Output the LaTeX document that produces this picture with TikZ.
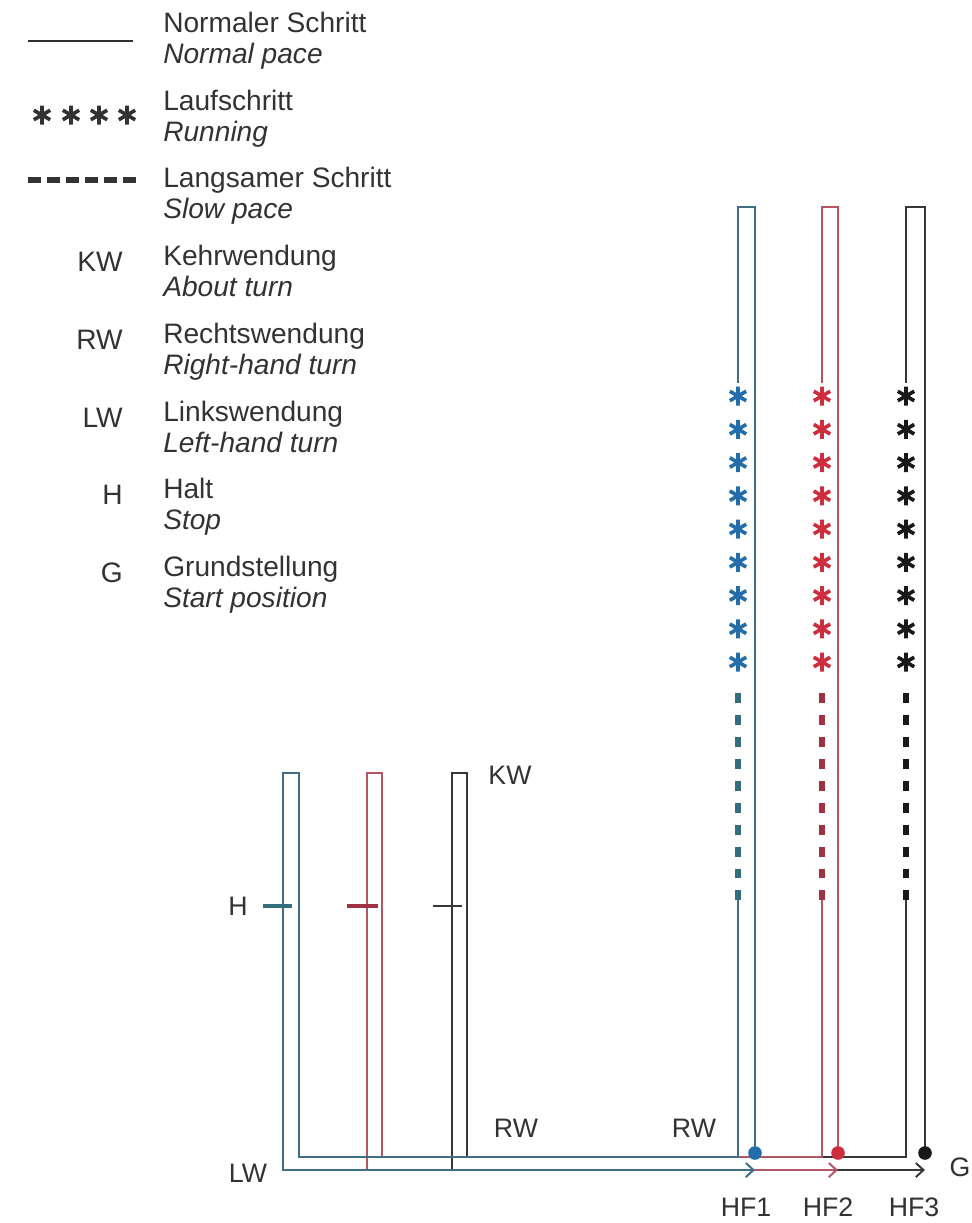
\documentclass[tikz,border=0pt]{standalone}
\usepackage{fontspec}
\setmainfont{Liberation Sans}
\usetikzlibrary{arrows.meta}

\definecolor{txtgray}{RGB}{50,50,50}
\definecolor{hfblue}{RGB}{35,110,170}
\definecolor{hfbluel}{RGB}{65,110,135}
\definecolor{hfbluet}{RGB}{50,110,125}
\definecolor{hfred}{RGB}{205,45,60}
\definecolor{hfredl}{RGB}{180,85,100}
\definecolor{hfredt}{RGB}{160,50,65}
\definecolor{hfblack}{RGB}{25,25,25}
\definecolor{hfblackl}{RGB}{55,55,55}

\tikzset{runmark/.pic={\draw[line width=2.6pt] (0,-9.5) -- (0,9.5) (-8.2,-4.75) -- (8.2,4.75) (-8.2,4.75) -- (8.2,-4.75);}}

\begin{document}
\begin{tikzpicture}
[	x=0.025cm, y=-0.025cm,
	>={Straight Barb[length=5.5pt,width=10pt]},
	route/.style={line width=1.4pt},
	slow/.style={line width=3.8pt,dash pattern=on 7.1pt off 8.5pt},
	halt/.style={line width=2.2pt},
	startdot/.style={circle,inner sep=0pt,minimum size=0.34cm},
	de/.style={anchor=base west,inner sep=0pt,text=txtgray,font=\fontsize{20}{24}\selectfont},
	en/.style={de,font=\fontsize{20}{24}\selectfont\itshape},
	abbr/.style={anchor=base east,inner sep=0pt,text=txtgray,font=\fontsize{20}{24}\selectfont},
	plain/.style={text=txtgray,inner sep=0pt,font=\fontsize{19}{23}\selectfont}
]
\useasboundingbox (0,0) rectangle (972,1223);

% legend
\draw[route,txtgray] (28,41) -- (133,41);
\foreach \x in {42,71,99,127} \pic[txtgray] at (\x,115) {runmark};
\draw[line width=3.8pt,dash pattern=on 9.2pt off 4.3pt,txtgray] (28,180) -- (137,180);
\node[abbr] (kwkey) at (123,271){KW};
\node[abbr] (rwkey) at (123,349){RW};
\node[abbr] (lwkey) at (123,427){LW};
\node[abbr] (hkey) at (123,504){H};
\node[abbr] (gkey) at (123,582){G};

\node[de] (normal) at (163,32){Normaler Schritt};
\node[en] (normalen) at (163,63){Normal pace};
\node[de] (lauf) at (163,110){Laufschritt};
\node[en] (laufen) at (163,141){Running};
\node[de] (langsam) at (163,187){Langsamer Schritt};
\node[en] (langsamen) at (163,218){Slow pace};
\node[de] (kehr) at (163,265){Kehrwendung};
\node[en] (kehren) at (163,296){About turn};
\node[de] (rechts) at (163,343){Rechtswendung};
\node[en] (rechtsen) at (163,374){Right-hand turn};
\node[de] (links) at (163,421){Linkswendung};
\node[en] (linksen) at (163,452){Left-hand turn};
\node[de] (halt) at (163,498){Halt};
\node[en] (halten) at (163,529){Stop};
\node[de] (grund) at (163,576){Grundstellung};
\node[en] (grunden) at (163,607){Start position};

% HF3
\coordinate (s3) at (925,1153);
\coordinate (g3) at (925,1170);
\draw[route,hfblackl] (s3) -- (925,207) -- (906,207) -- (906,383);
\foreach \k in {0,...,8} \pic[hfblack] at (906,{396+33.25*\k}) {runmark};
\draw[slow,hfblack] (906,693) -- (906,900);
\draw[route,hfblackl,->] (906,900) -- (906,1157) -- (467,1157) -- (467,773) -- (452,773) -- (452,1170) -- (g3);
\draw[hfblackl,line width=1.2pt] (433,906) -- (462,906);

% HF2
\coordinate (s2) at (838,1153);
\coordinate (g2) at (838,1170);
\draw[route,hfredl] (s2) -- (838,207) -- (822,207) -- (822,383);
\foreach \k in {0,...,8} \pic[hfred] at (822,{396+33.25*\k}) {runmark};
\draw[slow,hfredt] (822,693) -- (822,900);
\draw[route,hfredl,->] (822,900) -- (822,1157) -- (382,1157) -- (382,773) -- (367,773) -- (367,1170) -- (g2);
\draw[halt,hfredt] (347,906) -- (378,906);

% HF1
\coordinate (s1) at (755,1153);
\coordinate (g1) at (755,1170);
\draw[route,hfbluel] (s1) -- (755,207) -- (738,207) -- (738,383);
\foreach \k in {0,...,8} \pic[hfblue] at (738,{396+33.25*\k}) {runmark};
\draw[slow,hfbluet] (738,693) -- (738,900);
\draw[route,hfbluel,->] (738,900) -- (738,1157) -- (299,1157) -- (299,773) -- (283,773) -- (283,1170) -- (g1);
\draw[halt,hfbluet] (263,906) -- (292,906);

\node[startdot,fill=hfblack] (dot3) at (s3){};
\node[startdot,fill=hfred] (dot2) at (s2){};
\node[startdot,fill=hfblue] (dot1) at (s1){};

\node[plain] (h) at (238,906){H};
\node[plain] (kw) at (510,775){KW};
\node[plain] (rw1) at (516,1128){RW};
\node[plain] (rw2) at (694,1128){RW};
\node[plain] (lw) at (248,1173){LW};
\node[plain] (g) at (960,1167){G};
\node[plain] (hf1) at (746,1207){HF1};
\node[plain] (hf2) at (828,1207){HF2};
\node[plain] (hf3) at (914,1207){HF3};
\end{tikzpicture}
\end{document}
